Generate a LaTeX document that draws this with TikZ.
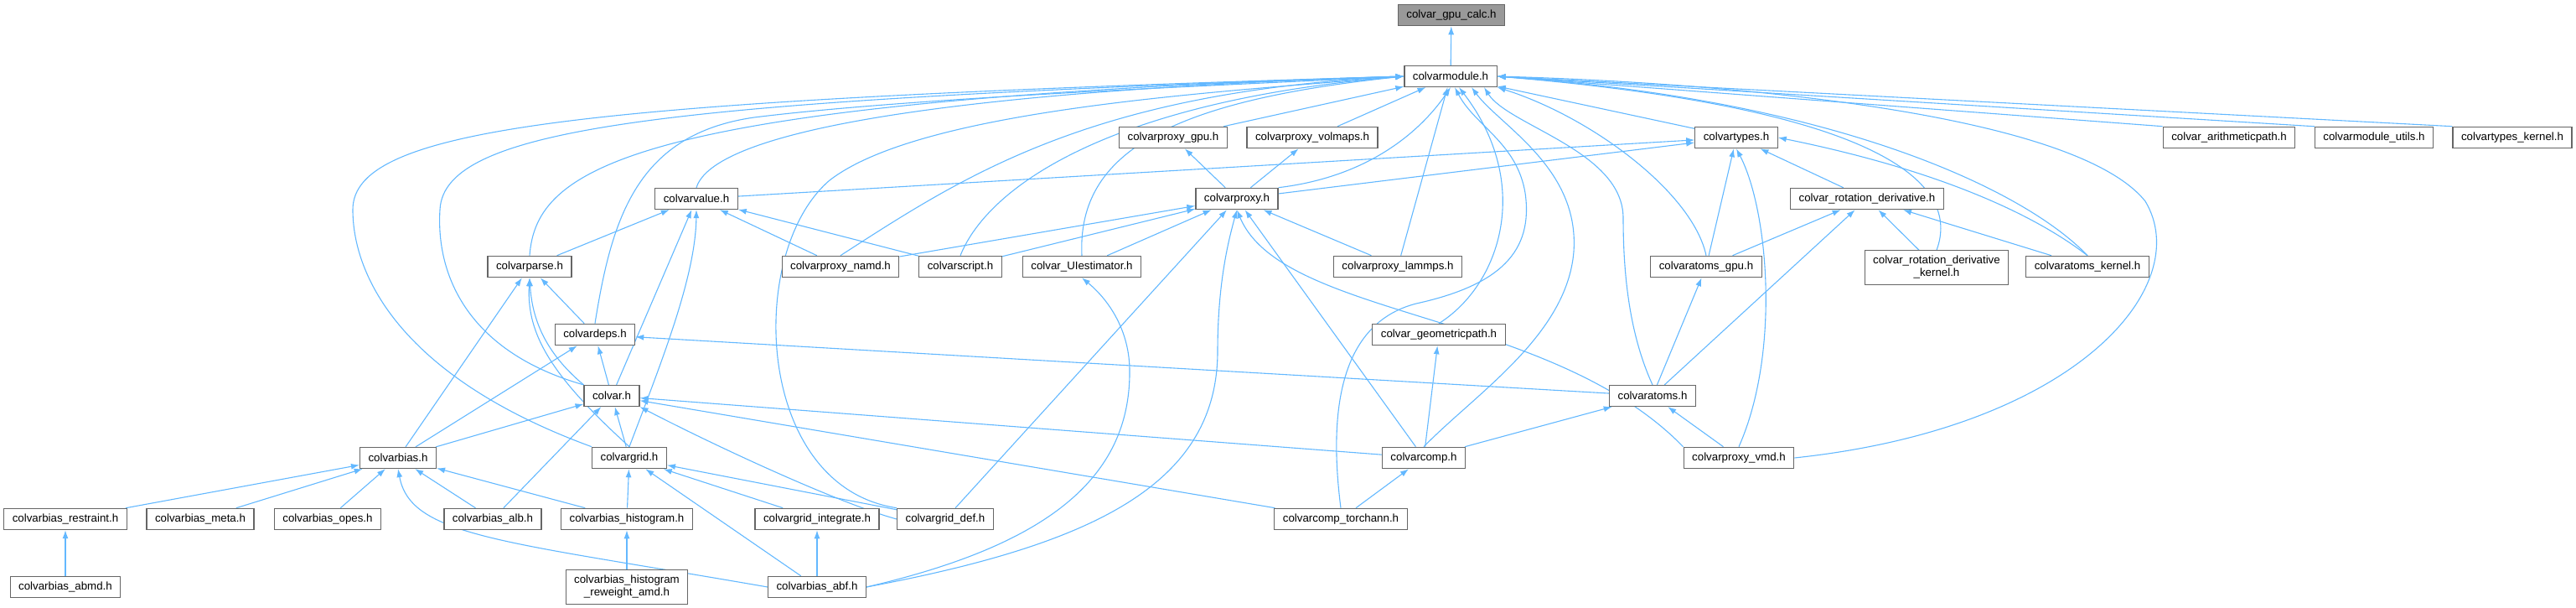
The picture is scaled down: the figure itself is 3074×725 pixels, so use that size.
\documentclass[tikz,border=0pt]{standalone}
\usepackage{fontspec}
\setmainfont{Liberation Sans}
\usepackage{xcolor}
\usepackage{tikz}
\usetikzlibrary{arrows.meta,backgrounds}
\definecolor{E0}{HTML}{63B8FF}
\definecolor{B0}{HTML}{666666}
\definecolor{F0}{HTML}{999999}
\tikzset{
  hbox/.style={draw=B0, fill=white, line width=1.2pt, minimum height=25pt, inner xsep=10pt, inner ysep=6.5pt, align=center, font=\fontsize{13.3}{15}\selectfont},
  inc/.style={draw=E0, line width=1.1pt, -{Latex[length=10pt,width=7pt]}},
}
\begin{document}
\begin{tikzpicture}[x=1pt,y=-1pt]%
\useasboundingbox (0,0) rectangle (3074,725);%
\node[hbox, fill=F0] (gpucalc) at (1732,18) {colvar\_gpu\_calc.h};%
\node[hbox] (module) at (1731,91) {colvarmodule.h};%
\node[hbox] (proxygpu) at (1400,164) {colvarproxy\_gpu.h};%
\node[hbox] (volmaps) at (1566,164) {colvarproxy\_volmaps.h};%
\node[hbox] (types) at (2072,164) {colvartypes.h};%
\node[hbox] (arith) at (2660,164) {colvar\_arithmeticpath.h};%
\node[hbox] (utils) at (2833,164) {colvarmodule\_utils.h};%
\node[hbox] (typeskernel) at (2998,164) {colvartypes\_kernel.h};%
\node[hbox] (value) at (831,237) {colvarvalue.h};%
\node[hbox] (proxy) at (1476,237) {colvarproxy.h};%
\node[hbox] (rotderiv) at (2228,237) {colvar\_rotation\_derivative.h};%
\node[hbox] (parse) at (632,318) {colvarparse.h};%
\node[hbox] (namd) at (1003,318) {colvarproxy\_namd.h};%
\node[hbox] (script) at (1146,318) {colvarscript.h};%
\node[hbox] (uiest) at (1291,318) {colvar\_UIestimator.h};%
\node[hbox] (lammps) at (1668,318) {colvarproxy\_lammps.h};%
\node[hbox] (atomsgpu) at (2036,318) {colvaratoms\_gpu.h};%
\node[hbox] (rotkernel) at (2311,319) {colvar\_rotation\_derivative\\\_kernel.h};%
\node[hbox] (atomskernel) at (2491,318) {colvaratoms\_kernel.h};%
\node[hbox] (deps) at (710,399) {colvardeps.h};%
\node[hbox] (geompath) at (1717,399) {colvar\_geometricpath.h};%
\node[hbox] (colvar) at (730,472) {colvar.h};%
\node[hbox] (atoms) at (1972,472) {colvaratoms.h};%
\node[hbox] (bias) at (475,546) {colvarbias.h};%
\node[hbox] (grid) at (751,546) {colvargrid.h};%
\node[hbox] (comp) at (1699,546) {colvarcomp.h};%
\node[hbox] (vmd) at (2075,546) {colvarproxy\_vmd.h};%
\node[hbox] (restraint) at (78,619) {colvarbias\_restraint.h};%
\node[hbox] (meta) at (239,619) {colvarbias\_meta.h};%
\node[hbox] (opes) at (391,619) {colvarbias\_opes.h};%
\node[hbox] (alb) at (588,619) {colvarbias\_alb.h};%
\node[hbox] (histogram) at (748,619) {colvarbias\_histogram.h};%
\node[hbox] (integrate) at (975,619) {colvargrid\_integrate.h};%
\node[hbox] (griddef) at (1128,619) {colvargrid\_def.h};%
\node[hbox] (torchann) at (1600,619) {colvarcomp\_torchann.h};%
\node[hbox] (abmd) at (78,700) {colvarbias\_abmd.h};%
\node[hbox] (reweight) at (748,700) {colvarbias\_histogram\\\_reweight\_amd.h};%
\node[hbox] (abf) at (975,700) {colvarbias\_abf.h};%
\begin{scope}[on background layer]%
\draw[inc] (module) -- (gpucalc);%
\draw[inc] (proxygpu) -- (module);%
\draw[inc] (volmaps) -- (module);%
\draw[inc] (types) -- (module);%
\draw[inc] (arith.north west) -- (module.east);%
\draw[inc] (utils.north west) -- (module.east);%
\draw[inc] (typeskernel.north west) -- (module.east);%
\draw[inc] (lammps) -- (module);%
\draw[inc] (value.north) .. controls (850,160) and (1100,110) .. (module.west);%
\draw[inc] (parse.north) .. controls (640,200) and (750,120) .. (module.west);%
\draw[inc] (colvar.north west) .. controls (560,420) and (520,330) .. (525,250) .. controls (530,150) and (800,120) .. (module.west);%
\draw[inc] (grid.north west) .. controls (480,450) and (421,330) .. (421,250) .. controls (421,150) and (700,120) .. (module.west);%
\draw[inc] (deps.north) .. controls (730,260) and (760,160) .. (900,140) .. controls (1100,115) and (1500,100) .. (module.west);%
\draw[inc] (namd.north) .. controls (1150,210) and (1300,110) .. (module.west);%
\draw[inc] (script.north) .. controls (1180,220) and (1330,120) .. (module.west);%
\draw[inc] (uiest.north) .. controls (1285,180) and (1400,120) .. (module.west);%
\draw[inc] (griddef.north west) .. controls (900,580) and (890,300) .. (990,215) .. controls (1100,130) and (1450,110) .. (module.west);%
\draw[inc] (proxy.north east) .. controls (1640,210) and (1700,150) .. (module.south);%
\draw[inc] (geompath.north) .. controls (1790,340) and (1830,220) .. ([xshift=10pt]module.south);%
\draw[inc] (comp.north) .. controls (1760,470) and (1870,400) .. (1878,300) .. controls (1885,200) and (1790,150) .. ([xshift=25pt]module.south);%
\draw[inc] (torchann.north) .. controls (1580,450) and (1620,380) .. (1690,362) .. controls (1790,340) and (1830,300) .. (1820,230) .. controls (1810,170) and (1760,150) .. ([xshift=5pt]module.south);%
\draw[inc] (atoms.north) .. controls (1945,400) and (1937,330) .. (1937,260) .. controls (1937,180) and (1800,150) .. ([xshift=40pt]module.south);%
\draw[inc] (atomsgpu.north) .. controls (2020,230) and (1900,140) .. (module.south east);%
\draw[inc] (rotkernel.north) .. controls (2340,220) and (2250,130) .. (module.east);%
\draw[inc] (atomskernel.north) .. controls (2420,230) and (2200,120) .. (module.east);%
\draw[inc] (vmd.east) .. controls (2480,510) and (2620,340) .. (2560,240) .. controls (2480,140) and (2100,100) .. (module.east);%
\draw[inc] (value) -- (types);%
\draw[inc] (proxy) -- (types);%
\draw[inc] (rotderiv) -- (types);%
\draw[inc] (atomsgpu) -- (types);%
\draw[inc] (vmd.north) .. controls (2125,420) and (2110,250) .. (types.south);%
\draw[inc] (atomskernel.north) .. controls (2420,250) and (2300,200) .. (types.east);%
\draw[inc] (atomsgpu) -- (rotderiv);%
\draw[inc] (atoms) -- (rotderiv);%
\draw[inc] (rotkernel) -- (rotderiv);%
\draw[inc] (atomskernel) -- (rotderiv);%
\draw[inc] (proxy) -- (proxygpu);%
\draw[inc] (proxy) -- (volmaps);%
\draw[inc] (parse) -- (value);%
\draw[inc] (namd) -- (value);%
\draw[inc] (script) -- (value);%
\draw[inc] (colvar) -- (value);%
\draw[inc] (grid.north) .. controls (790,430) and (830,330) .. (value.south);%
\draw[inc] (namd) -- (proxy);%
\draw[inc] (script) -- (proxy);%
\draw[inc] (uiest) -- (proxy);%
\draw[inc] (lammps) -- (proxy);%
\draw[inc] (griddef) -- (proxy);%
\draw[inc] (comp) -- (proxy);%
\draw[inc] (abf.east) .. controls (1300,650) and (1452,580) .. (1453,420) .. controls (1453,340) and (1465,290) .. (proxy.south);%
\draw[inc] (vmd.north west) .. controls (1850,370) and (1530,380) .. (proxy.south);%
\draw[inc] (abf.east) .. controls (1250,650) and (1350,570) .. (1348,440) .. controls (1347,390) and (1320,355) .. (uiest.south);%
\draw[inc] (deps) -- (parse);%
\draw[inc] (bias) -- (parse);%
\draw[inc] (colvar.north west) .. controls (650,420) and (635,380) .. (parse.south);%
\draw[inc] (grid.north) .. controls (660,450) and (628,400) .. (parse.south);%
\draw[inc] (atoms) -- (atomsgpu);%
\draw[inc] (colvar) -- (deps);%
\draw[inc] (bias) -- (deps);%
\draw[inc] (atoms) -- (deps);%
\draw[inc] (comp) -- (geompath);%
\draw[inc] (bias) -- (colvar);%
\draw[inc] (grid) -- (colvar);%
\draw[inc] (alb) -- (colvar);%
\draw[inc] (comp) -- (colvar);%
\draw[inc] (torchann) -- (colvar);%
\draw[inc] (griddef.west) .. controls (1000,600) and (850,530) .. (colvar.south east);%
\draw[inc] (comp) -- (atoms);%
\draw[inc] (vmd) -- (atoms);%
\draw[inc] (restraint) -- (bias);%
\draw[inc] (meta) -- (bias);%
\draw[inc] (opes) -- (bias);%
\draw[inc] (alb) -- (bias);%
\draw[inc] (histogram) -- (bias);%
\draw[inc] (abf.west) .. controls (600,645) and (490,640) .. (bias.south);%
\draw[inc] (histogram) -- (grid);%
\draw[inc] (integrate) -- (grid);%
\draw[inc] (griddef) -- (grid);%
\draw[inc] (abf) -- (grid);%
\draw[inc] (torchann) -- (comp);%
\draw[inc] (abmd) -- (restraint);%
\draw[inc] (reweight) -- (histogram);%
\draw[inc] (abf) -- (integrate);%
\end{scope}%
\end{tikzpicture}
\end{document}
